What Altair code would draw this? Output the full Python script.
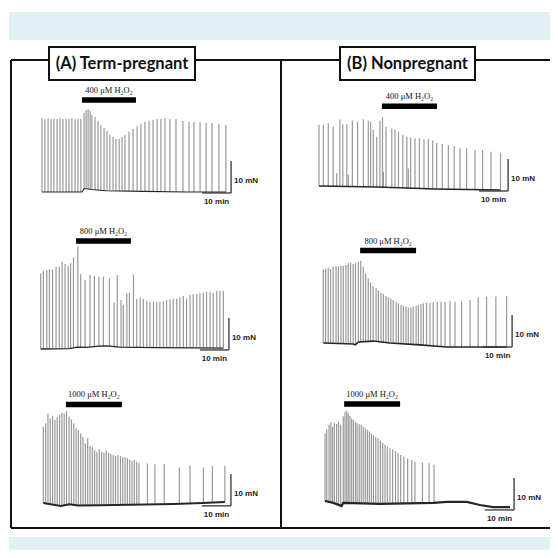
import altair as alt
import numpy as np
import pandas as pd

# ---------------- data: spike times (min) and peak forces (mN) ----------------
A1_t = [0.0, 1.0, 2.1, 3.1, 4.1, 5.2, 6.2, 7.2, 8.3, 9.3, 10.3, 11.4, 12.4, 13.4, 14.5, 15.2, 15.9,
        16.6, 17.2, 18.3, 19.3, 20.3, 21.4, 22.4, 23.4, 24.5, 25.5, 26.6, 27.6, 28.6, 30.0, 31.4,
        32.8, 34.1, 35.5, 36.9, 38.3, 39.7, 41.0, 42.4, 44.1, 46.2, 48.6, 50.7, 52.4, 54.5, 56.6,
        58.6, 61.0, 63.4]
A1_f = [23.1, 22.8, 23.0, 22.8, 23.0, 22.8, 23.0, 22.8, 22.9, 22.8, 22.9, 22.7, 22.8, 22.9, 24.7,
        25.6, 25.9, 25.3, 24.1, 23.4, 22.2, 20.9, 20.0, 19.1, 17.8, 17.2, 16.6, 16.6, 17.2, 17.8,
        18.8, 19.7, 20.6, 21.3, 21.9, 22.2, 22.5, 22.8, 22.8, 23.1, 22.8, 22.8, 22.2, 21.9, 21.9,
        21.9, 21.6, 21.6, 21.3, 20.9]

B1_t = [0.0, 1.5, 3.2, 4.9, 7.2, 8.2, 9.6, 11.5, 13.3, 15.3, 17.0, 17.8, 18.7, 19.9, 21.0, 21.9,
        23.1, 25.1, 26.2, 27.4, 28.9, 30.3, 31.6, 33.1, 34.6, 36.2, 37.7, 39.2, 40.6, 42.5, 44.6,
        46.6, 48.6, 50.9, 53.8, 56.4, 59.3, 62.6, 6.1, 10.1, 22.2, 30.8]
B1_f = [19.4, 19.4, 19.9, 18.8, 21.1, 19.6, 19.6, 20.7, 20.4, 21.2, 20.7, 20.4, 17.8, 15.7, 20.7,
        21.8, 18.8, 18.3, 18.0, 17.3, 16.3, 15.7, 15.5, 15.2, 15.2, 14.9, 14.9, 14.5, 13.8, 13.4,
        13.1, 12.8, 12.1, 12.1, 11.6, 11.6, 11.0, 10.7, 4.3, 3.8, 4.8, 5.8]

A2_t = [0.0, 0.9, 2.1, 3.0, 4.1, 5.3, 6.4, 7.4, 8.4, 9.5, 10.3, 11.3, 12.8, 13.8, 15.3, 17.0, 18.5,
        20.1, 21.6, 23.7, 25.3, 26.4, 27.7, 28.5, 29.7, 30.6, 32.0, 33.1, 34.3, 35.4, 36.6, 37.7,
        38.9, 40.0, 41.1, 42.3, 43.4, 44.6, 45.7, 46.9, 48.0, 49.2, 50.3, 51.5, 52.6, 53.8, 54.9,
        56.1, 57.2, 58.4, 59.5, 60.7, 61.8, 63.0]
A2_f = [23.6, 24.5, 24.7, 24.9, 24.9, 25.7, 25.7, 27.3, 26.6, 25.9, 26.8, 28.6, 32.0, 23.4, 21.6,
        23.1, 22.8, 22.6, 22.6, 22.1, 14.5, 23.1, 15.3, 13.8, 17.4, 17.6, 23.3, 15.6, 16.0, 15.6,
        15.1, 14.8, 14.8, 14.8, 14.8, 15.0, 15.3, 15.5, 15.7, 15.8, 16.1, 16.6, 15.8, 16.9, 17.2,
        17.2, 17.4, 17.6, 17.8, 17.9, 17.6, 18.2, 18.2, 18.1]

B2_t = [0.0, 0.8, 1.7, 2.5, 3.4, 4.4, 5.2, 6.1, 6.9, 7.8, 8.6, 9.4, 10.3, 11.1, 12.1, 12.9, 13.8,
        14.6, 15.5, 16.3, 17.2, 18.2, 19.0, 19.9, 20.7, 21.6, 22.4, 23.3, 24.1, 25.1, 25.9, 26.8,
        27.6, 28.5, 29.3, 30.2, 31.0, 32.0, 32.8, 33.7, 34.5, 35.6, 36.8, 37.9, 39.3, 40.6, 42.0,
        43.7, 45.4, 47.7, 50.6, 53.4, 56.3, 59.5, 63.2]
B2_f = [23.0, 23.3, 23.5, 23.1, 23.9, 24.1, 23.9, 24.2, 24.1, 24.4, 24.9, 25.1, 24.7, 25.1, 25.4,
        25.7, 23.9, 21.8, 20.2, 18.9, 17.8, 17.1, 16.4, 15.7, 15.3, 14.7, 14.3, 13.9, 13.4, 12.9,
        12.4, 11.9, 11.6, 11.4, 11.1, 11.1, 11.4, 11.6, 11.9, 12.2, 12.4, 12.6, 12.6, 12.7, 12.9,
        12.9, 12.9, 13.2, 12.9, 12.9, 13.4, 14.3, 14.5, 14.5, 14.7]

A3_t = [0.0, 0.8, 1.6, 2.4, 3.2, 4.0, 4.8, 5.6, 6.4, 7.2, 8.0, 8.9, 9.7, 10.5, 11.3, 12.1, 12.9,
        13.7, 14.5, 15.3, 16.1, 16.9, 17.7, 18.5, 19.3, 20.1, 20.9, 21.7, 22.5, 23.3, 24.1, 24.9,
        25.7, 26.6, 27.4, 28.2, 29.0, 29.8, 30.6, 31.4, 32.2, 33.0, 35.9, 38.5, 41.7, 46.9, 50.6,
        55.2, 58.3, 62.6]
A3_f = [23.9, 24.9, 28.0, 26.5, 27.2, 25.9, 26.8, 27.5, 28.2, 28.0, 28.8, 27.0, 26.1, 24.9, 23.3,
        22.8, 21.8, 20.7, 18.6, 20.2, 17.8, 17.6, 16.6, 16.0, 16.8, 16.0, 15.7, 16.4, 15.7, 15.3,
        15.0, 14.7, 15.0, 14.7, 14.3, 14.3, 14.0, 13.6, 13.2, 13.4, 12.9, 12.6, 12.4, 12.1, 12.2,
        11.1, 11.7, 11.1, 11.6, 11.6]

B3_t = [0.0, 0.6, 1.4, 2.0, 2.6, 3.2, 4.0, 4.7, 5.4, 6.3, 6.9, 7.5, 8.0, 8.6, 9.2, 9.8, 10.5,
        11.1, 11.8, 12.5, 13.2, 13.9, 14.6, 15.3, 16.0, 16.7, 17.5, 18.3, 19.1, 19.9, 20.7, 21.5,
        22.4, 23.3, 24.3, 25.2, 26.1, 27.2, 28.5, 29.9, 31.0, 33.6, 35.9, 37.6]
B3_f = [21.1, 22.4, 23.8, 24.5, 23.2, 24.3, 24.1, 24.8, 23.8, 26.4, 27.9, 28.2, 27.4, 26.6, 25.8,
        25.3, 24.8, 24.3, 24.0, 23.8, 23.2, 22.7, 22.2, 21.7, 21.1, 20.6, 20.1, 19.6, 18.9, 18.2,
        17.5, 17.0, 16.5, 16.1, 15.6, 15.1, 14.4, 13.9, 13.3, 12.8, 12.3, 12.0, 11.8, 11.3]

# baseline (resting tension) knots: time (min), force (mN)
BASE = {
    "A1": ([0, 13.8, 14.5, 17, 22, 35, 50, 63.4], [0, 0, 1.1, 0.8, 0.4, 0.2, 0, 0]),
    "B1": ([0, 20, 40, 62.6], [0.3, 0, -0.6, -0.9]),
    "A2": ([0, 10, 12.5, 16, 20, 23, 27, 40, 63], [0, 0.1, 0.6, 0.5, 0.9, 1.0, 0.6, 0.4, 0.3]),
    "B2": ([0, 10.3, 11.0, 12.1, 17.2, 23.0, 33.3, 42.5, 63.2],
           [0, -0.3, -0.6, 0.3, 0.6, 0, -0.6, -1.25, -1.25]),
    "A3": ([0, 3, 6, 9, 12, 20, 35, 45, 55, 62.6], [0, -0.5, -0.9, -0.4, -0.8, -0.7, -0.5, -0.3, 0, 0.3]),
    "B3": ([0, 2.9, 5.7, 6.3, 19, 37.4, 42, 48.9, 53.4, 58, 63.8],
           [0, -0.6, -1.6, -0.6, -0.9, -0.6, -0.3, -0.3, -1.25, -1.9, -1.9]),
}

SPIKES = {"A1": (A1_t, A1_f), "B1": (B1_t, B1_f), "A2": (A2_t, A2_f),
          "B2": (B2_t, B2_f), "A3": (A3_t, A3_f), "B3": (B3_t, B3_f)}

# H2O2 application: label, start (min), end (min)
DRUG = {"A1": ("400 \u03bcM H\u2082O\u2082", 13.8, 32.4),
        "B1": ("400 \u03bcM H\u2082O\u2082", 21.7, 40.7),
        "A2": ("800 \u03bcM H\u2082O\u2082", 12.2, 31.1),
        "B2": ("800 \u03bcM H\u2082O\u2082", 12.7, 32.0),
        "A3": ("1000 \u03bcM H\u2082O\u2082", 7.8, 27.1),
        "B3": ("1000 \u03bcM H\u2082O\u2082", 6.6, 25.9)}

TITLES = ["(A) Term-pregnant", "(B) Nonpregnant"]

# ---------------- layout (positions and styles only) ----------------
LAYOUT = pd.DataFrame({
    "panel": ["A1", "B1", "A2", "B2", "A3", "B3"],
    "x0": [42, 319, 40.7, 323.3, 43.3, 325],
    "y0": [192, 187, 349, 343, 503, 501],
    "bar_f": [28.75, 25.2, 33.75, 28.9, 30.8, 30.3],
    "sb_t": [65.2, 65.2, 64.9, 65.1, 64.7, 65.2],
    "sb_f": [-0.3, -1.25, -0.3, -1.25, -0.9, -2.8],
    "lw": [1.1, 1.5, 1.3, 1.6, 2.0, 2.2],
})
PX_MIN = 2.9   # px per minute
PX_MN = 3.2    # px per mN

rows = []
for p, (ts, fs) in SPIKES.items():
    bt, bf = BASE[p]
    for t, f in zip(ts, fs):
        rows.append({"panel": p, "t": t, "f": f, "fb": float(np.interp(t, bt, bf))})
spikes = pd.DataFrame(rows)

base_rows = []
for p, (bt, bf) in BASE.items():
    for i, (t, f) in enumerate(zip(bt, bf)):
        base_rows.append({"panel": p, "t": t, "f": f, "i": i})
baseline = pd.DataFrame(base_rows)

drug = pd.DataFrame([{"panel": p, "label": v[0], "t": v[1], "t2": v[2]} for p, v in DRUG.items()])
sb = pd.DataFrame({"panel": LAYOUT["panel"]})

X = alt.Scale(domain=[8, 550])
Y = alt.Scale(domain=[8, 550], reverse=True)
lk = alt.LookupData(LAYOUT, "panel", ["x0", "y0", "bar_f", "sb_t", "sb_f", "lw"])


def px(expr):
    return f"datum.x0 + ({expr}) * {PX_MIN}"


def py(expr):
    return f"datum.y0 - ({expr}) * {PX_MN}"


def xq(f):
    return alt.X(f"{f}:Q", scale=X, axis=None)


def yq(f):
    return alt.Y(f"{f}:Q", scale=Y, axis=None)


# ---------------- decoration: page bands, frame, title boxes ----------------
bands = pd.DataFrame({"x": [9, 9], "x2": [550, 550], "y": [12, 537], "y2": [40, 550]})
band_layer = alt.Chart(bands).mark_rect(color="#e1f0f4").encode(
    x=xq("x"), x2="x2:Q", y=yq("y"), y2="y2:Q")

frame = pd.DataFrame({
    "x": [11, 11, 195, 475, 11, 281],
    "x2": [11, 49, 340, 550, 550, 281],
    "y": [60, 60, 60, 60, 528, 60],
    "y2": [528, 60, 60, 60, 528, 528],
})
frame_layer = alt.Chart(frame).mark_rule(color="#111111", strokeWidth=2).encode(
    x=xq("x"), x2="x2:Q", y=yq("y"), y2="y2:Q")

boxes = pd.DataFrame({"x": [49, 340], "x2": [195, 475], "y": [47, 47], "y2": [80, 80],
                      "title": TITLES})
box_layer = alt.Chart(boxes).mark_rect(fill="white", stroke="#111111", strokeWidth=2).encode(
    x=xq("x"), x2="x2:Q", y=yq("y"), y2="y2:Q")
title_layer = alt.Chart(boxes).transform_calculate(
    cx="(datum.x + datum.x2) / 2", cy="(datum.y + datum.y2) / 2"
).mark_text(font="Lato", fontWeight="bold", fontSize=16.5, color="#111111",
            baseline="middle", align="center").encode(
    x=xq("cx"), y=yq("cy"), text="title:N")

# ---------------- traces ----------------
spike_layer = alt.Chart(spikes).transform_lookup(lookup="panel", from_=lk).transform_calculate(
    px=px("datum.t"), pyb=py("datum.fb"), pyt=py("datum.f")
).mark_rule(color="#999999", strokeWidth=1.2).encode(
    x=xq("px"), y=yq("pyb"), y2="pyt:Q")

base_layer = alt.Chart(baseline).transform_lookup(lookup="panel", from_=lk).transform_calculate(
    px=px("datum.t"), py=py("datum.f")
).mark_line(color="#262626").encode(
    x=xq("px"), y=yq("py"), detail="panel:N", order="i:Q",
    strokeWidth=alt.StrokeWidth("lw:Q", scale=None, legend=None))

drug_bar = alt.Chart(drug).transform_lookup(lookup="panel", from_=lk).transform_calculate(
    px=px("datum.t"), px2=px("datum.t2"), py=py("datum.bar_f")
).mark_rule(color="black", strokeWidth=5.5).encode(
    x=xq("px"), x2="px2:Q", y=yq("py"))

drug_text = alt.Chart(drug).transform_lookup(lookup="panel", from_=lk).transform_calculate(
    px=px("(datum.t + datum.t2) / 2"), py=py("datum.bar_f")
).mark_text(font="Liberation Serif", fontSize=8.5, color="#111111", dy=-10,
            baseline="middle", align="center").encode(
    x=xq("px"), y=yq("py"), text="label:N")

sb_v = alt.Chart(sb).transform_lookup(lookup="panel", from_=lk).transform_calculate(
    px=px("datum.sb_t"), py=py("datum.sb_f"), py2=py("datum.sb_f + 10")
).mark_rule(color="#333333", strokeWidth=1.3).encode(x=xq("px"), y=yq("py"), y2="py2:Q")

sb_h = alt.Chart(sb).transform_lookup(lookup="panel", from_=lk).transform_calculate(
    px=px("datum.sb_t - 10"), px2=px("datum.sb_t"), py=py("datum.sb_f")
).mark_rule(color="#333333", strokeWidth=1.3).encode(x=xq("px"), x2="px2:Q", y=yq("py"))

sb_mn = alt.Chart(sb).transform_lookup(lookup="panel", from_=lk).transform_calculate(
    px=px("datum.sb_t"), py=py("datum.sb_f"), lab="'10 mN'"
).mark_text(font="Liberation Sans", fontSize=8, fontWeight="bold", color="#222222",
            align="left", baseline="middle", dx=3, dy=-12).encode(
    x=xq("px"), y=yq("py"), text="lab:N")

sb_min = alt.Chart(sb).transform_lookup(lookup="panel", from_=lk).transform_calculate(
    px=px("datum.sb_t - 5"), py=py("datum.sb_f"), lab="'10 min'"
).mark_text(font="Liberation Sans", fontSize=8, fontWeight="bold", color="#222222",
            align="center", baseline="middle", dy=9).encode(
    x=xq("px"), y=yq("py"), text="lab:N")

chart = alt.layer(
    band_layer, frame_layer, box_layer, title_layer,
    spike_layer, base_layer, drug_bar, drug_text, sb_v, sb_h, sb_mn, sb_min
).properties(
    width=542, height=542, padding=0,
    autosize=alt.AutoSizeParams(type="none"),
    background="white",
).configure_view(stroke=None)

chart.save("out.html", embed_options={"renderer": "svg", "actions": False})
